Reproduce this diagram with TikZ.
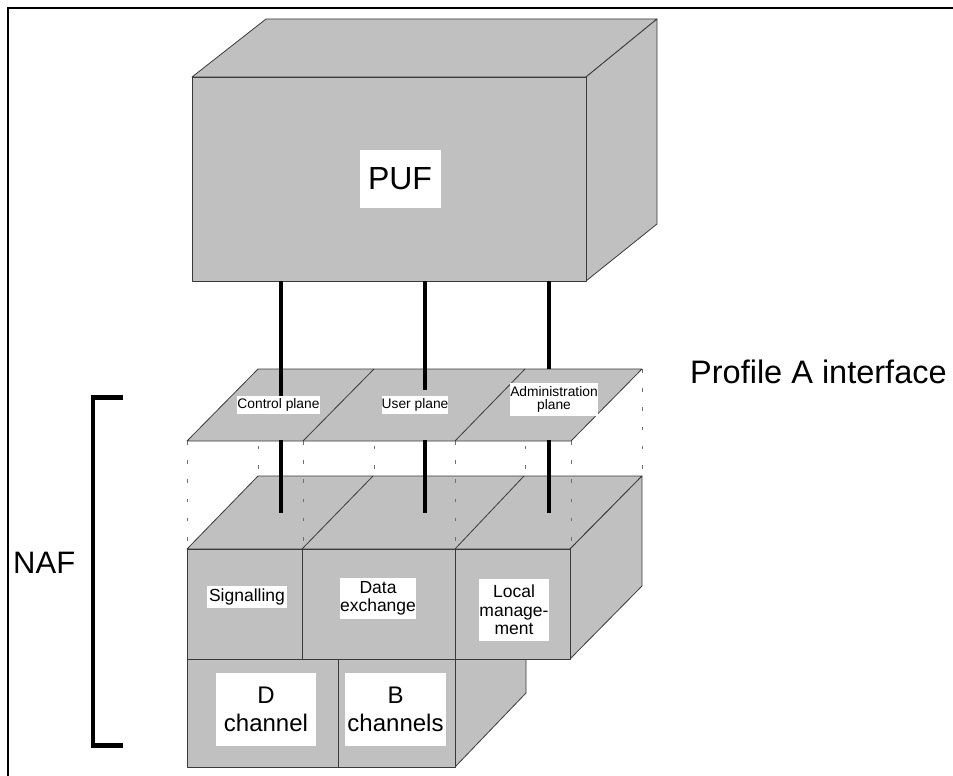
\documentclass[tikz,border=0pt]{standalone}
\usepackage{fontspec}
\setmainfont{Liberation Sans}
\definecolor{boxgray}{HTML}{C0C0C0}
\definecolor{edgegray}{HTML}{3A3A3A}
\definecolor{dotgray}{HTML}{707070}
\begin{document}
\begin{tikzpicture}[x=1pt,y=-1pt,
  face/.style={fill=boxgray, draw=edgegray, line width=0.8pt, line join=round},
  edge/.style={draw=edgegray, line width=0.8pt},
  link/.style={line width=3.8pt, black},
  guide/.style={draw=dotgray, line width=1pt, dash pattern=on 3.5pt off 15.7pt},
  tag/.style={fill=white, inner sep=0pt, align=center},
  small/.style={font=\fontsize{13.8}{13.5}\selectfont},
  medium/.style={font=\fontsize{17.5}{18.5}\selectfont},
  large/.style={font=\fontsize{24}{28}\selectfont},
  huge/.style={font=\fontsize{32}{36}\selectfont},
]
\useasboundingbox (0,0) rectangle (953,776);

% frame (top and left rules)
\draw[line width=2pt] (7.5,776) -- (7.5,7.7) -- (953,7.7);

% ---------- PUF block ----------
\draw[face] (192,77) -- (266,19) -- (657,19) -- (586,77) -- cycle;
\draw[face] (586,77) -- (657,19) -- (657,224) -- (586,281) -- cycle;
\draw[face] (192,77) rectangle (586,281);
\node[tag, huge, minimum width=81pt, minimum height=58pt] (puf) at (400,179) {PUF};

% ---------- NAF block: lower row ----------
\draw[face] (455,659) -- (526,659) -- (526,693) -- (455,767) -- cycle;
\draw[face] (187,659) rectangle (338,767);
\draw[face] (338,659) rectangle (455,767);

% ---------- NAF block: upper row ----------
\draw[face] (187,549) -- (258,476) -- (642,476) -- (570,549) -- cycle;
\draw[edge] (302,549) -- (373,476);
\draw[edge] (455,549) -- (524,476);
\draw[face] (570,549) -- (642,476) -- (642,586) -- (570,659) -- cycle;
\draw[face] (187,549) rectangle (302,659);
\draw[face] (302,549) rectangle (455,659);
\draw[face] (455,549) rectangle (570,659);

% ---------- dotted guides between plane and block ----------
\foreach \x in {187,303,455,571} \draw[guide] (\x,441) -- (\x,549);
\foreach \x in {258,374,525,642} \draw[guide] (\x,369) -- (\x,476);

% ---------- Profile A interface plane ----------
\draw[face] (187,441) -- (258,369) -- (642,369) -- (571,441) -- cycle;
\draw[edge] (303,441) -- (374,369);
\draw[edge] (455,441) -- (525,369);

% ---------- connectors ----------
\coordinate (p1) at (281,281);  \coordinate (q1) at (281,400);
\coordinate (p2) at (425,281);  \coordinate (q2) at (425,390);
\coordinate (p3) at (549,281);  \coordinate (q3) at (549,369);
\coordinate (r1) at (281,440);  \coordinate (s1) at (281,513);
\coordinate (r2) at (425,440);  \coordinate (s2) at (425,513);
\coordinate (r3) at (549,440);  \coordinate (s3) at (549,513);
\draw[link] (p1) -- (q1);
\draw[link] (p2) -- (q2);
\draw[link] (p3) -- (q3);
\draw[link] (r1) -- (s1);
\draw[link] (r2) -- (s2);
\draw[link] (r3) -- (s3);

% ---------- labels ----------
\node[tag, small, minimum width=81pt, minimum height=18pt] (cp) at (278.5,405) {Control plane};
\node[tag, small, minimum width=64pt, minimum height=18pt] (up) at (415,405) {User plane};
\node[tag, small, minimum width=86pt, minimum height=33pt] (ap) at (554,399.5) {Administration\\plane};

\node[tag, medium, minimum width=80pt, minimum height=22pt] (sig) at (247,597) {Signalling};
\node[tag, medium, minimum width=69pt, minimum height=41pt] (dx) at (378,598.5) {Data\\exchange};
\node[tag, medium, minimum width=65pt, minimum height=62pt] (lm) at (514,610) {Local\\manage-\\ment};

\node[tag, large, minimum width=100pt, minimum height=73pt] (dch) at (266,709.5) {D\\channel};
\node[tag, large, minimum width=101pt, minimum height=73pt] (bch) at (395.5,709.5) {B\\channels};

\node[anchor=base west, inner sep=0pt, font=\fontsize{32.5}{36}\selectfont] (prof) at (690,383) {Profile A interface};
\node[anchor=base west, inner sep=0pt, font=\fontsize{31}{36}\selectfont] (naf) at (13,573) {NAF};

% NAF bracket
\coordinate (b1) at (123,397.5);
\coordinate (b2) at (93,397.5);
\coordinate (b3) at (93,745.5);
\coordinate (b4) at (123,745.5);
\draw[line width=4.5pt] (b1) -- (b2) -- (b3) -- (b4);
\end{tikzpicture}
\end{document}
